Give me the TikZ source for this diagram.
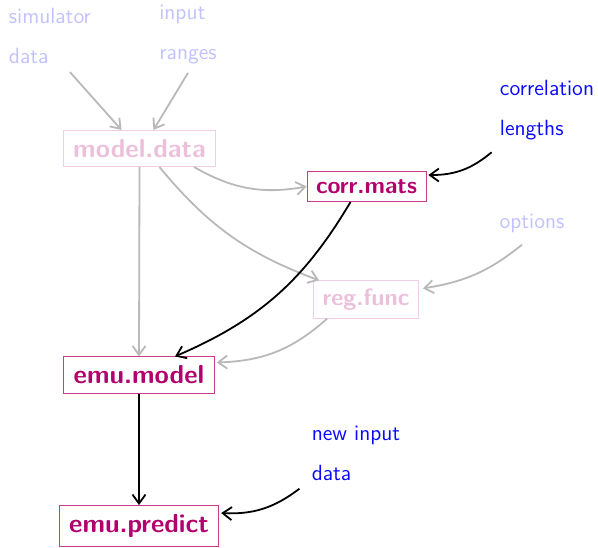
\documentclass[tikz,border=0pt]{standalone}
\usepackage{tikz}
\usetikzlibrary{arrows.meta}
\definecolor{boxtext}{RGB}{178,0,108}
\definecolor{boxline}{RGB}{200,60,140}
\definecolor{inblue}{RGB}{10,10,255}
\tikzset{>={Straight Barb[length=4.5pt, width=6.5pt]}}
\tikzset{
  func/.style={draw=boxline, text=boxtext, inner xsep=5pt, inner ysep=4.5pt,
    font=\sffamily\bfseries\fontsize{13}{15}\selectfont},
  sidefunc/.style={func, inner xsep=4.5pt, inner ysep=4pt,
    font=\sffamily\bfseries\fontsize{11.8}{14}\selectfont},
  input/.style={text=inblue, align=left, inner sep=1pt,
    font=\sffamily\fontsize{11}{13}\selectfont},
  faded/.style={opacity=0.25},
  link/.style={->, line width=0.9pt},
  greylink/.style={->, line width=0.9pt, gray!55}
}

\begin{document}
\begin{tikzpicture}[x=0.5pt, y=-0.5pt]
        \useasboundingbox (0, 0) rectangle (598, 547);
        % inputs
        \node[input, faded] (simdata) at (50, 36) {simulator\\[7pt]data};
        \node[input, faded] (ranges) at (188, 35) {input\\[7pt]ranges};
        \node[input] (corrlen) at (547, 110) {correlation\\[7pt]lengths};
        \node[input, faded] (options) at (532, 223) {options};
        \node[input] (newinput) at (356, 453) {new input\\[7pt]data};
        % functions
        \node[func, faded] (modeldata) at (139.5, 148.5) {model.data};
        \node[sidefunc] (corrmats) at (366.5, 186.5) {corr.mats};
        \node[sidefunc, faded] (regfunc) at (366, 299.5) {reg.func};
        \node[func] (emumodel) at (139, 375) {emu.model};
        \node[func] (emupredict) at (139, 526) {emu.predict};
        % grey flow into the model
        \draw[greylink] ([xshift=10pt, yshift=-3pt]simdata.south) -- ([xshift=-9pt]modeldata.north);
        \draw[greylink] ([yshift=-3pt]ranges.south) -- ([xshift=7pt]modeldata.north);
        \draw[greylink] (modeldata.south) -- (emumodel.north);
        \draw[greylink] ([xshift=-11pt]modeldata.south east) to[bend right=20] (corrmats.west);
        \draw[greylink] ([xshift=10pt]modeldata.south) to[bend right=15] ([xshift=3pt]regfunc.north west);
        \draw[greylink] ([xshift=-5pt, yshift=-5pt]options.south) to[bend left=15] ([xshift=2pt, yshift=-4pt]regfunc.north east);
        \draw[greylink] ([xshift=7pt]regfunc.south west) to[bend left=20] ([xshift=1pt, yshift=-3pt]emumodel.north east);
        % main path
        \draw[link] ([xshift=-3pt, yshift=-5pt]corrlen.south west) to[bend left=20] ([xshift=1pt, yshift=-2pt]corrmats.north east);
        \draw[link] ([xshift=-8pt]corrmats.south) to[bend left=18] ([xshift=18pt]emumodel.north);
        \draw[link] (emumodel.south) -- (emupredict.north);
        \draw[link] ([xshift=-5pt, yshift=-3pt]newinput.south west) to[bend left=20] ([xshift=1pt, yshift=-4pt]emupredict.north east);
    \end{tikzpicture}
\end{document}
